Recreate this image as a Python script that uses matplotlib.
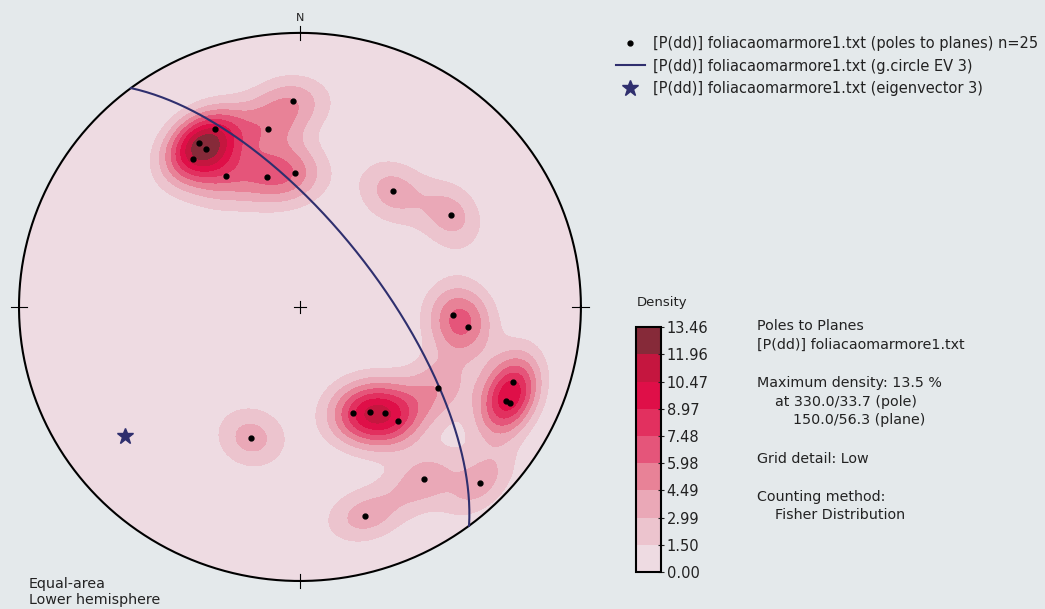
import numpy as np
import matplotlib
matplotlib.use("Agg")
import matplotlib.pyplot as plt
from matplotlib.colors import ListedColormap, BoundaryNorm
from matplotlib.lines import Line2D
from matplotlib.patches import Circle

# poles to planes, trend / plunge in degrees
pole_trend = [358, 350, 335, 329, 330, 325, 331, 346, 358,
              38, 58, 93, 97, 121, 110, 115, 115,
              200, 154, 147, 142, 140, 145, 135, 163]
pole_plunge = [25.7, 34.4, 29.3, 30.8, 33.7, 34.3, 44.7, 49.6, 49.5,
               45.5, 36.9, 44.7, 39.6, 42.1, 20.6, 20.2, 18.6,
               47.9, 54.7, 52.3, 49.4, 44.8, 24.2, 10.2, 21.4]

# eigenvector 3 (trend / plunge)
ev3_trend = 233.0
ev3_plunge = 23.0

max_density = 13.46
kappa = 75.0

band_colors = ['#eedbe2', '#ecc4ce', '#eaa8b7', '#e88297', '#e5557a',
               '#e2305f', '#df0f48', '#c5163f', '#862a39']

bg = '#e4e9eb'
navy = '#2f2f6e'
txt = '#222222'


def to_xyz(trend, plunge):
    t = np.radians(trend)
    p = np.radians(plunge)
    return np.cos(p) * np.cos(t), np.cos(p) * np.sin(t), np.sin(p)


def project(n, e, d):
    # lower hemisphere, equal-area (Schmidt), unit radius
    n, e, d = np.asarray(n), np.asarray(e), np.asarray(d)
    flip = d < 0
    n = np.where(flip, -n, n)
    e = np.where(flip, -e, e)
    d = np.where(flip, -d, d)
    k = 1.0 / np.sqrt(1.0 + d)
    return e * k, n * k


def fy(py):
    return 1 - py / 609.0


fig = plt.figure(figsize=(10.45, 6.09), dpi=100, facecolor=bg)
ax = fig.add_axes([0.00474, 0.0235, 0.5646, 0.945])
ax.set_xlim(-1.05, 1.05)
ax.set_ylim(-1.05, 1.05)
ax.axis('off')

# Fisher density on a grid over the net
gx, gy = np.meshgrid(np.linspace(-1.02, 1.02, 321), np.linspace(-1.02, 1.02, 321))
r2 = np.clip(gx ** 2 + gy ** 2, 0, 1)
s = np.sqrt(2 - r2)
gn, ge, gd = gy * s, gx * s, 1 - r2
norm_len = np.sqrt(gn ** 2 + ge ** 2 + gd ** 2)
gn, ge, gd = gn / norm_len, ge / norm_len, gd / norm_len

pn, pe, pd = to_xyz(np.array(pole_trend), np.array(pole_plunge))
cosang = np.abs(gn[..., None] * pn + ge[..., None] * pe + gd[..., None] * pd)
dens = np.exp(kappa * (cosang - 1)).sum(axis=-1)
dens = dens / dens.max() * max_density

levels = np.linspace(0, max_density, 10)
cmap = ListedColormap(band_colors)
cnorm = BoundaryNorm(levels, cmap.N)
cs = ax.contourf(gx, gy, dens, levels=levels, cmap=cmap, norm=cnorm)
clip = Circle((0, 0), 1, transform=ax.transData, facecolor='none', edgecolor='none')
ax.add_patch(clip)
cs.set_clip_path(clip)

# primitive circle and ticks
th = np.linspace(0, 2 * np.pi, 400)
ax.plot(np.cos(th), np.sin(th), color='black', lw=1.5)
ax.plot([0, 0], [0.975, 1.025], color='black', lw=0.8)
ax.plot([0, 0], [-0.975, -1.025], color='black', lw=0.8)
ax.plot([-0.97, -1.03], [0, 0], color='black', lw=0.8)
ax.plot([0.97, 1.03], [0, 0], color='black', lw=0.8)
ax.plot([-0.022, 0.022], [0, 0], color='black', lw=0.8)
ax.plot([0, 0], [-0.022, 0.022], color='black', lw=0.8)
ax.text(0, 1.035, 'N', ha='center', va='bottom', fontsize=8, color=txt)

# great circle normal to eigenvector 3
dd = ev3_trend - 180
dip = 90 - ev3_plunge
sn, se, sd = to_xyz(dd - 90, 0)
dn_, de_, ddn = to_xyz(dd, dip)
a = np.linspace(0, np.pi, 200)
gcx, gcy = project(np.cos(a) * sn + np.sin(a) * dn_,
                   np.cos(a) * se + np.sin(a) * de_,
                   np.cos(a) * sd + np.sin(a) * ddn)
ax.plot(gcx, gcy, color=navy, lw=1.5)

# poles and eigenvector
px, py = project(pn, pe, pd)
ax.plot(px, py, 'o', color='black', ms=3.5, ls='')
ex, ey = project(*to_xyz(ev3_trend, ev3_plunge))
ax.plot(ex, ey, '*', color=navy, ms=12, ls='')

# legend
handles = [Line2D([], [], marker='o', ls='', color='black', ms=3.5),
           Line2D([], [], color=navy, lw=1.5),
           Line2D([], [], marker='*', ls='', color=navy, ms=12)]
labels = ['[P(dd)] foliacaomarmore1.txt (poles to planes) n=25',
          '[P(dd)] foliacaomarmore1.txt (g.circle EV 3)',
          '[P(dd)] foliacaomarmore1.txt (eigenvector 3)']
leg = fig.legend(handles, labels, loc='upper left', bbox_to_anchor=(0.589, fy(36)),
                 frameon=False, fontsize=10.5, handlelength=2.0, handletextpad=0.6,
                 labelspacing=0.52, borderpad=0, borderaxespad=0)
for t in leg.get_texts():
    t.set_color(txt)

# colorbar
cax = fig.add_axes([0.6086, 0.0608, 0.0239, 0.402])
cb = fig.colorbar(cs, cax=cax, ticks=levels)
cb.ax.set_yticklabels([f"{v:.2f}" for v in levels])
cb.ax.tick_params(labelsize=10.5, length=4, width=0.8, direction='inout', pad=2,
                  colors=txt)
cb.outline.set_linewidth(1.5)
fig.text(637 / 1045, fy(303), 'Density', fontsize=9.5, va='center', ha='left', color=txt)

# info block
x0 = 757 / 1045
info = [(x0, 326, 'Poles to Planes'),
        (x0, 345, '[P(dd)] foliacaomarmore1.txt'),
        (x0, 383, 'Maximum density: 13.5 %'),
        (775 / 1045, 402, 'at 330.0/33.7 (pole)'),
        (793 / 1045, 420, '150.0/56.3 (plane)'),
        (x0, 459, 'Grid detail: Low'),
        (x0, 497, 'Counting method:'),
        (775 / 1045, 515, 'Fisher Distribution')]
for x, y, s_ in info:
    fig.text(x, fy(y), s_, fontsize=10.3, va='center', ha='left', color=txt)

fig.text(29 / 1045, fy(607), 'Equal-area\nLower hemisphere', fontsize=10.3,
         va='bottom', ha='left', color=txt, linespacing=1.15)

fig.savefig('out.png', dpi=100, facecolor=bg)
